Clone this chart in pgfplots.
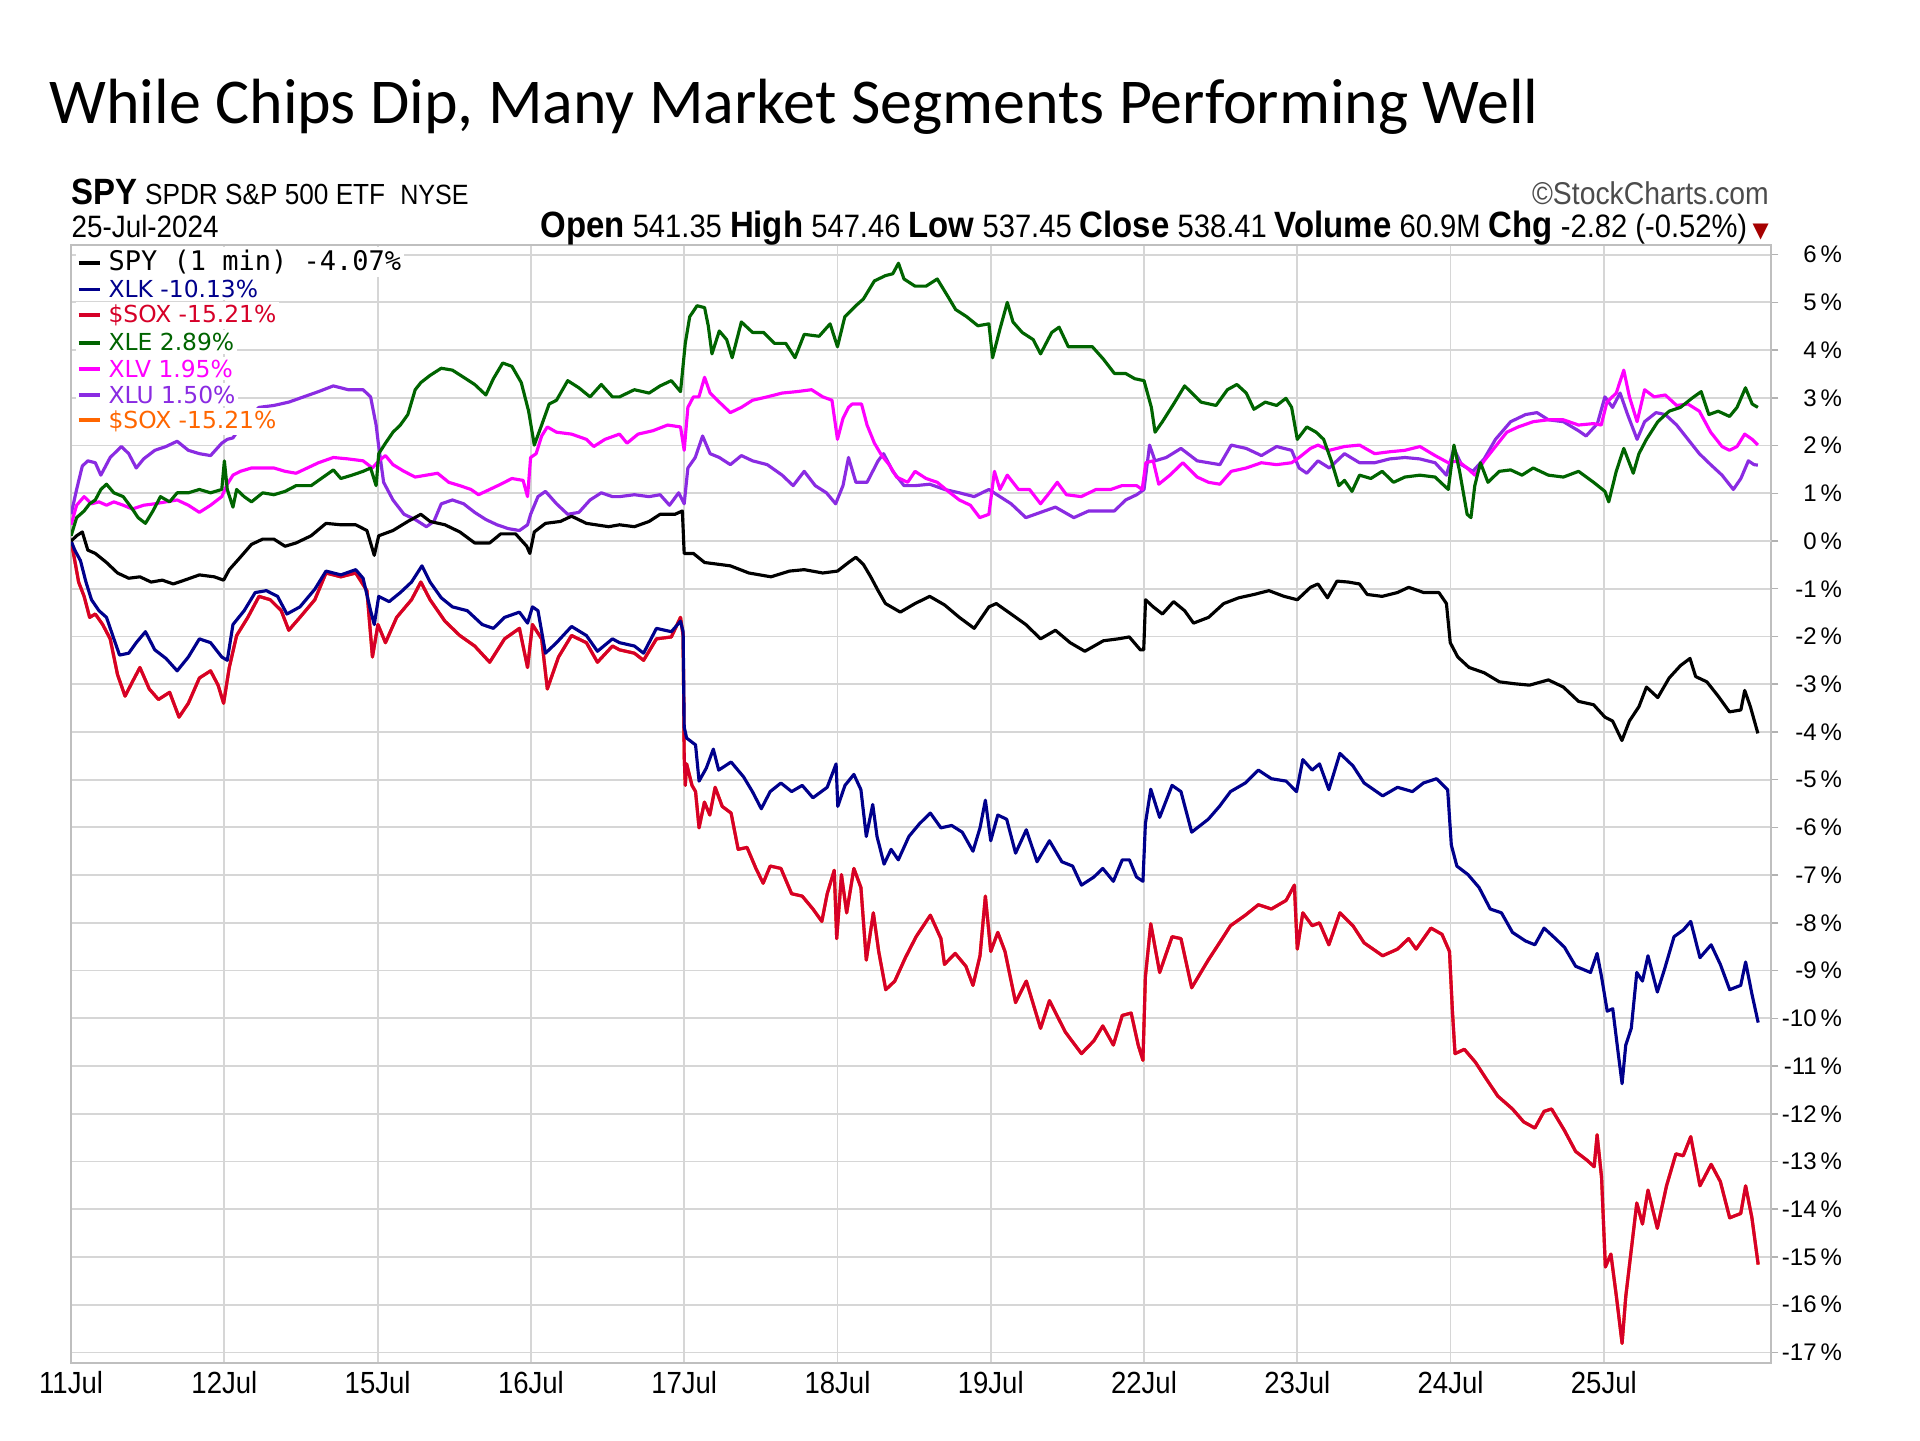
\documentclass[border=0pt]{standalone}
\usepackage{pgfplots}
\pgfplotsset{compat=1.18}
\usepackage{fontspec}
\setmainfont{Liberation Sans}
\newfontfamily\narrowfont[FakeStretch=0.9]{Liberation Sans}
\newfontfamily\titlefont{Carlito}
\newfontfamily\legfont{DejaVu Sans}
\newfontfamily\legmono{DejaVu Sans Mono}
\definecolor{cXLK}{RGB}{0,0,140}
\definecolor{cSOX}{RGB}{214,0,40}
\definecolor{cXLE}{RGB}{0,100,0}
\definecolor{cXLV}{RGB}{255,0,255}
\definecolor{cXLU}{RGB}{138,43,226}
\definecolor{cORG}{RGB}{255,102,0}
\definecolor{gridc}{RGB}{214,214,214}
\newcommand\B[1]{{\fontsize{12.2}{12}\selectfont\bfseries #1}}
\begin{document}
\begin{tikzpicture}
\fill[white] (0pt,0pt) rectangle (640pt,480pt);
\useasboundingbox (0pt,0pt) rectangle (640pt,480pt);
\begin{axis}[
  at={(23.7pt,25.7pt)}, anchor=south west, scale only axis,
  width=566.6pt, height=372.6pt,
  xmin=0, xmax=11.09, ymin=-17.22, ymax=6.2,
  axis line style={draw=gray!50, line width=0.8pt},
  xtick={0,...,10},
  xticklabels={11Jul,12Jul,15Jul,16Jul,17Jul,18Jul,19Jul,22Jul,23Jul,24Jul,25Jul},
  x tick label style={font=\narrowfont\fontsize{10.2}{12}\selectfont, anchor=north, inner sep=0pt, yshift=-0.2pt},
  xtick style={draw=none},
  ytick={-17,-16,...,6},
  yticklabels={-17\,\%,-16\,\%,-15\,\%,-14\,\%,-13\,\%,-12\,\%,-11\,\%,-10\,\%,-9\,\%,-8\,\%,-7\,\%,-6\,\%,-5\,\%,-4\,\%,-3\,\%,-2\,\%,-1\,\%,0\,\%,1\,\%,2\,\%,3\,\%,4\,\%,5\,\%,6\,\%},
  yticklabel pos=right, ytick pos=right,
  tick align=outside,
  major tick length=2.5pt,
  ytick style={draw=gray!60, line width=0.5pt},
  y tick label style={font=\fontsize{8}{9}\selectfont, anchor=east, inner sep=0pt, xshift=21.4pt},
  grid=major, major grid style={draw=gridc, line width=0.6pt},
  extra y ticks={0}, extra y tick labels={},
  extra y tick style={grid style={draw=gray!75!black, line width=0.8pt}, major tick length=0pt},
  every axis plot/.append style={line width=1.05pt, line join=round},
]
% SOX (orange duplicate, hidden below red)
\addplot[cORG] coordinates {(0.000,0.00) (0.024,-0.41) (0.049,-0.86) (0.085,-1.16) (0.121,-1.60) (0.158,-1.53) (0.206,-1.75) (0.255,-2.05) (0.303,-2.80) (0.352,-3.25) (0.400,-2.95) (0.449,-2.65) (0.510,-3.10) (0.570,-3.32) (0.643,-3.17) (0.704,-3.69) (0.765,-3.40) (0.837,-2.87) (0.910,-2.72) (0.959,-3.02) (0.995,-3.40) (1.032,-2.65) (1.080,-1.98) (1.153,-1.60) (1.226,-1.16) (1.299,-1.23) (1.371,-1.46) (1.420,-1.87) (1.493,-1.60) (1.590,-1.23) (1.663,-0.67) (1.760,-0.75) (1.857,-0.67) (1.930,-1.04) (1.966,-2.43) (2.002,-1.75) (2.051,-2.13) (2.124,-1.60) (2.221,-1.23) (2.282,-0.86) (2.342,-1.23) (2.439,-1.68) (2.536,-1.98) (2.633,-2.20) (2.731,-2.54) (2.828,-2.05) (2.925,-1.83) (2.978,-2.65) (3.010,-1.75) (3.070,-2.05) (3.107,-3.10) (3.180,-2.43) (3.265,-1.98) (3.362,-2.13) (3.434,-2.54) (3.532,-2.20) (3.578,-2.28) (3.675,-2.35) (3.735,-2.50) (3.819,-2.05) (3.916,-2.01) (3.976,-1.60) (3.993,-1.98) (4.000,-4.50) (4.007,-5.12) (4.016,-4.67) (4.051,-5.12) (4.074,-5.25) (4.097,-6.01) (4.132,-5.47) (4.167,-5.74) (4.202,-5.16) (4.248,-5.56) (4.306,-5.70) (4.352,-6.46) (4.410,-6.42) (4.468,-6.86) (4.515,-7.17) (4.561,-6.81) (4.631,-6.86) (4.701,-7.39) (4.770,-7.44) (4.840,-7.71) (4.898,-7.97) (4.933,-7.39) (4.979,-6.90) (4.995,-8.33) (5.026,-6.99) (5.060,-7.79) (5.107,-6.86) (5.153,-7.26) (5.188,-8.78) (5.234,-7.79) (5.269,-8.60) (5.315,-9.40) (5.374,-9.22) (5.443,-8.73) (5.513,-8.29) (5.606,-7.84) (5.675,-8.33) (5.698,-8.87) (5.768,-8.64) (5.838,-8.91) (5.884,-9.31) (5.930,-8.69) (5.965,-7.44) (6.000,-8.60) (6.046,-8.20) (6.093,-8.60) (6.162,-9.67) (6.232,-9.22) (6.325,-10.21) (6.383,-9.63) (6.487,-10.29) (6.592,-10.74) (6.673,-10.47) (6.731,-10.16) (6.800,-10.56) (6.858,-9.94) (6.916,-9.89) (6.962,-10.56) (6.993,-10.88) (7.009,-9.13) (7.044,-8.02) (7.102,-9.04) (7.183,-8.29) (7.241,-8.33) (7.311,-9.36) (7.419,-8.78) (7.492,-8.42) (7.564,-8.06) (7.661,-7.84) (7.746,-7.62) (7.831,-7.71) (7.927,-7.53) (7.981,-7.21) (8.000,-8.55) (8.036,-7.79) (8.097,-8.06) (8.145,-8.00) (8.206,-8.46) (8.278,-7.79) (8.363,-8.06) (8.436,-8.42) (8.557,-8.69) (8.654,-8.55) (8.726,-8.33) (8.775,-8.55) (8.872,-8.11) (8.944,-8.24) (8.993,-8.60) (9.012,-9.85) (9.029,-10.74) (9.090,-10.65) (9.162,-10.92) (9.235,-11.28) (9.308,-11.63) (9.404,-11.90) (9.477,-12.17) (9.550,-12.30) (9.610,-11.95) (9.659,-11.90) (9.743,-12.35) (9.816,-12.79) (9.889,-12.97) (9.937,-13.11) (9.956,-12.44) (9.985,-13.33) (10.010,-15.21) (10.046,-14.94) (10.082,-15.83) (10.119,-16.81) (10.143,-15.83) (10.179,-14.85) (10.215,-13.87) (10.252,-14.31) (10.288,-13.60) (10.349,-14.40) (10.409,-13.51) (10.470,-12.84) (10.518,-12.88) (10.567,-12.48) (10.627,-13.51) (10.700,-13.06) (10.760,-13.42) (10.821,-14.18) (10.893,-14.09) (10.925,-13.51) (10.966,-14.18) (11.007,-15.16)};
% XLU
\addplot[cXLU] coordinates {(0.000,0.56) (0.036,1.08) (0.073,1.57) (0.109,1.68) (0.158,1.64) (0.194,1.38) (0.255,1.75) (0.328,1.98) (0.376,1.83) (0.425,1.53) (0.473,1.72) (0.546,1.90) (0.619,1.98) (0.692,2.09) (0.765,1.90) (0.837,1.83) (0.910,1.79) (0.983,2.05) (1.019,2.13) (1.056,2.16) (1.129,2.50) (1.226,2.80) (1.323,2.84) (1.420,2.91) (1.517,3.02) (1.614,3.13) (1.711,3.25) (1.808,3.17) (1.905,3.17) (1.954,3.02) (1.990,2.43) (2.007,1.98) (2.039,1.23) (2.100,0.86) (2.172,0.56) (2.245,0.45) (2.318,0.30) (2.367,0.41) (2.415,0.78) (2.488,0.86) (2.561,0.78) (2.633,0.60) (2.706,0.45) (2.779,0.34) (2.852,0.26) (2.925,0.22) (2.978,0.34) (2.998,0.56) (3.046,0.93) (3.095,1.04) (3.167,0.78) (3.240,0.56) (3.313,0.60) (3.386,0.86) (3.459,1.01) (3.532,0.93) (3.578,0.93) (3.675,0.97) (3.771,0.93) (3.843,0.97) (3.904,0.75) (3.964,1.01) (4.000,0.78) (4.024,1.53) (4.072,1.75) (4.120,2.20) (4.169,1.83) (4.229,1.75) (4.301,1.60) (4.373,1.79) (4.446,1.68) (4.542,1.60) (4.639,1.38) (4.711,1.16) (4.783,1.46) (4.855,1.16) (4.928,1.01) (4.988,0.78) (5.036,1.16) (5.072,1.75) (5.120,1.23) (5.193,1.23) (5.265,1.68) (5.301,1.83) (5.361,1.46) (5.434,1.16) (5.506,1.16) (5.602,1.19) (5.699,1.08) (5.795,1.01) (5.892,0.93) (5.988,1.08) (6.060,0.93) (6.133,0.78) (6.229,0.49) (6.325,0.60) (6.422,0.71) (6.542,0.49) (6.639,0.63) (6.735,0.63) (6.807,0.63) (6.880,0.86) (6.952,0.97) (7.000,1.08) (7.036,2.01) (7.072,1.68) (7.145,1.75) (7.241,1.94) (7.347,1.68) (7.421,1.64) (7.495,1.60) (7.569,2.01) (7.667,1.94) (7.766,1.79) (7.865,1.98) (7.963,1.90) (8.012,1.53) (8.062,1.42) (8.135,1.68) (8.209,1.53) (8.308,1.83) (8.406,1.64) (8.505,1.64) (8.603,1.72) (8.702,1.75) (8.800,1.72) (8.899,1.64) (8.973,1.38) (9.022,1.94) (9.071,1.60) (9.145,1.46) (9.219,1.72) (9.293,2.13) (9.392,2.50) (9.490,2.65) (9.564,2.69) (9.638,2.54) (9.736,2.50) (9.835,2.31) (9.884,2.20) (9.958,2.46) (10.007,3.02) (10.057,2.80) (10.106,3.10) (10.155,2.65) (10.217,2.13) (10.266,2.50) (10.340,2.69) (10.401,2.65) (10.475,2.43) (10.549,2.13) (10.623,1.83) (10.697,1.60) (10.771,1.38) (10.845,1.08) (10.894,1.31) (10.943,1.68) (10.980,1.60) (11.005,1.59)};
% XLV
\addplot[cXLV] coordinates {(0.000,0.34) (0.036,0.75) (0.085,0.93) (0.133,0.78) (0.182,0.82) (0.231,0.75) (0.279,0.82) (0.340,0.75) (0.400,0.67) (0.473,0.75) (0.546,0.78) (0.619,0.82) (0.692,0.86) (0.765,0.75) (0.837,0.60) (0.910,0.75) (0.983,0.93) (1.019,1.19) (1.056,1.38) (1.104,1.46) (1.177,1.53) (1.250,1.53) (1.323,1.53) (1.396,1.46) (1.468,1.42) (1.541,1.53) (1.614,1.64) (1.711,1.75) (1.808,1.72) (1.905,1.68) (1.966,1.53) (2.007,1.68) (2.051,1.79) (2.100,1.60) (2.172,1.46) (2.245,1.34) (2.318,1.38) (2.391,1.42) (2.464,1.23) (2.536,1.16) (2.609,1.08) (2.658,0.97) (2.731,1.08) (2.803,1.19) (2.876,1.31) (2.949,1.27) (2.978,0.93) (2.998,1.75) (3.034,1.83) (3.070,2.20) (3.107,2.39) (3.167,2.28) (3.265,2.24) (3.362,2.13) (3.410,1.98) (3.483,2.13) (3.578,2.24) (3.627,2.05) (3.699,2.24) (3.795,2.31) (3.892,2.43) (3.976,2.39) (4.000,1.90) (4.024,2.80) (4.060,3.02) (4.096,3.02) (4.133,3.43) (4.169,3.10) (4.229,2.91) (4.301,2.69) (4.373,2.80) (4.446,2.95) (4.542,3.02) (4.639,3.10) (4.735,3.13) (4.831,3.17) (4.904,3.02) (4.964,2.95) (5.000,2.13) (5.036,2.57) (5.072,2.80) (5.096,2.87) (5.157,2.87) (5.193,2.43) (5.241,2.05) (5.289,1.79) (5.337,1.60) (5.386,1.34) (5.458,1.23) (5.506,1.46) (5.578,1.31) (5.651,1.23) (5.723,1.04) (5.795,0.86) (5.867,0.75) (5.928,0.49) (5.988,0.56) (6.024,1.46) (6.060,1.08) (6.108,1.38) (6.181,1.08) (6.253,1.08) (6.325,0.78) (6.373,0.97) (6.434,1.23) (6.494,0.97) (6.590,0.93) (6.687,1.08) (6.783,1.08) (6.855,1.16) (6.952,1.16) (6.988,1.08) (7.012,1.64) (7.060,1.68) (7.096,1.19) (7.169,1.38) (7.253,1.64) (7.347,1.34) (7.421,1.23) (7.495,1.19) (7.569,1.46) (7.667,1.53) (7.766,1.64) (7.865,1.60) (7.963,1.64) (8.012,1.75) (8.086,1.94) (8.135,2.01) (8.209,1.90) (8.308,1.98) (8.406,2.01) (8.505,1.83) (8.603,1.87) (8.702,1.90) (8.800,1.98) (8.899,1.79) (8.985,1.64) (9.047,1.68) (9.108,1.53) (9.158,1.38) (9.219,1.68) (9.293,1.98) (9.367,2.28) (9.441,2.39) (9.539,2.50) (9.638,2.54) (9.736,2.54) (9.835,2.43) (9.933,2.46) (9.983,2.43) (10.020,2.91) (10.081,3.10) (10.130,3.58) (10.167,3.02) (10.217,2.50) (10.266,3.17) (10.328,3.02) (10.401,3.06) (10.475,2.84) (10.549,2.87) (10.623,2.72) (10.697,2.28) (10.771,1.98) (10.820,1.90) (10.869,1.98) (10.919,2.24) (10.968,2.13) (11.005,2.01)};
% XLE
\addplot[cXLE] coordinates {(0.000,0.11) (0.036,0.49) (0.085,0.63) (0.121,0.78) (0.158,0.86) (0.194,1.08) (0.231,1.19) (0.279,1.01) (0.340,0.93) (0.400,0.67) (0.437,0.49) (0.485,0.37) (0.534,0.63) (0.583,0.93) (0.643,0.82) (0.692,1.01) (0.765,1.01) (0.837,1.08) (0.910,1.01) (0.983,1.08) (1.000,1.68) (1.019,1.08) (1.056,0.71) (1.080,1.08) (1.129,0.93) (1.177,0.82) (1.250,1.01) (1.323,0.97) (1.396,1.04) (1.468,1.16) (1.566,1.16) (1.663,1.38) (1.711,1.49) (1.760,1.31) (1.833,1.38) (1.905,1.46) (1.954,1.53) (1.990,1.16) (2.007,1.83) (2.051,2.05) (2.100,2.28) (2.148,2.43) (2.197,2.65) (2.245,3.17) (2.282,3.32) (2.342,3.47) (2.415,3.62) (2.488,3.58) (2.561,3.43) (2.633,3.28) (2.706,3.06) (2.755,3.40) (2.816,3.73) (2.876,3.66) (2.937,3.32) (2.985,2.72) (3.022,2.01) (3.070,2.43) (3.119,2.87) (3.167,2.95) (3.240,3.36) (3.313,3.21) (3.386,3.02) (3.459,3.28) (3.532,3.02) (3.578,3.02) (3.675,3.17) (3.771,3.10) (3.843,3.25) (3.916,3.36) (3.976,3.13) (4.007,4.14) (4.036,4.70) (4.084,4.93) (4.133,4.89) (4.157,4.51) (4.181,3.92) (4.229,4.40) (4.277,4.22) (4.313,3.84) (4.373,4.59) (4.446,4.37) (4.518,4.37) (4.590,4.14) (4.663,4.14) (4.723,3.84) (4.783,4.33) (4.880,4.29) (4.952,4.55) (5.000,4.07) (5.048,4.70) (5.120,4.93) (5.169,5.07) (5.241,5.45) (5.313,5.56) (5.361,5.60) (5.398,5.82) (5.434,5.49) (5.506,5.34) (5.578,5.34) (5.651,5.49) (5.723,5.11) (5.771,4.85) (5.843,4.70) (5.916,4.51) (5.988,4.55) (6.012,3.84) (6.060,4.44) (6.108,5.00) (6.145,4.59) (6.205,4.37) (6.277,4.22) (6.325,3.92) (6.398,4.37) (6.446,4.48) (6.506,4.07) (6.590,4.07) (6.663,4.07) (6.735,3.81) (6.807,3.51) (6.880,3.51) (6.940,3.40) (7.000,3.36) (7.048,2.80) (7.072,2.28) (7.120,2.50) (7.193,2.87) (7.265,3.25) (7.372,2.91) (7.470,2.84) (7.544,3.17) (7.606,3.28) (7.667,3.10) (7.717,2.76) (7.791,2.91) (7.865,2.84) (7.926,2.99) (7.963,2.80) (8.000,2.13) (8.062,2.39) (8.123,2.28) (8.172,2.13) (8.222,1.68) (8.271,1.16) (8.308,1.27) (8.357,1.04) (8.406,1.38) (8.480,1.31) (8.554,1.46) (8.628,1.23) (8.702,1.34) (8.800,1.38) (8.899,1.34) (8.985,1.08) (9.022,2.01) (9.059,1.46) (9.108,0.56) (9.133,0.49) (9.158,1.16) (9.195,1.64) (9.244,1.23) (9.318,1.46) (9.392,1.49) (9.466,1.38) (9.539,1.53) (9.638,1.38) (9.736,1.34) (9.835,1.46) (9.933,1.23) (10.007,1.04) (10.032,0.82) (10.081,1.46) (10.130,1.94) (10.192,1.42) (10.229,1.83) (10.278,2.13) (10.352,2.50) (10.426,2.72) (10.500,2.80) (10.574,2.99) (10.635,3.13) (10.685,2.65) (10.746,2.72) (10.820,2.61) (10.869,2.80) (10.924,3.21) (10.968,2.87) (11.005,2.80)};
% SOX
\addplot[cSOX] coordinates {(0.000,0.00) (0.024,-0.41) (0.049,-0.86) (0.085,-1.16) (0.121,-1.60) (0.158,-1.53) (0.206,-1.75) (0.255,-2.05) (0.303,-2.80) (0.352,-3.25) (0.400,-2.95) (0.449,-2.65) (0.510,-3.10) (0.570,-3.32) (0.643,-3.17) (0.704,-3.69) (0.765,-3.40) (0.837,-2.87) (0.910,-2.72) (0.959,-3.02) (0.995,-3.40) (1.032,-2.65) (1.080,-1.98) (1.153,-1.60) (1.226,-1.16) (1.299,-1.23) (1.371,-1.46) (1.420,-1.87) (1.493,-1.60) (1.590,-1.23) (1.663,-0.67) (1.760,-0.75) (1.857,-0.67) (1.930,-1.04) (1.966,-2.43) (2.002,-1.75) (2.051,-2.13) (2.124,-1.60) (2.221,-1.23) (2.282,-0.86) (2.342,-1.23) (2.439,-1.68) (2.536,-1.98) (2.633,-2.20) (2.731,-2.54) (2.828,-2.05) (2.925,-1.83) (2.978,-2.65) (3.010,-1.75) (3.070,-2.05) (3.107,-3.10) (3.180,-2.43) (3.265,-1.98) (3.362,-2.13) (3.434,-2.54) (3.532,-2.20) (3.578,-2.28) (3.675,-2.35) (3.735,-2.50) (3.819,-2.05) (3.916,-2.01) (3.976,-1.60) (3.993,-1.98) (4.000,-4.50) (4.007,-5.12) (4.016,-4.67) (4.051,-5.12) (4.074,-5.25) (4.097,-6.01) (4.132,-5.47) (4.167,-5.74) (4.202,-5.16) (4.248,-5.56) (4.306,-5.70) (4.352,-6.46) (4.410,-6.42) (4.468,-6.86) (4.515,-7.17) (4.561,-6.81) (4.631,-6.86) (4.701,-7.39) (4.770,-7.44) (4.840,-7.71) (4.898,-7.97) (4.933,-7.39) (4.979,-6.90) (4.995,-8.33) (5.026,-6.99) (5.060,-7.79) (5.107,-6.86) (5.153,-7.26) (5.188,-8.78) (5.234,-7.79) (5.269,-8.60) (5.315,-9.40) (5.374,-9.22) (5.443,-8.73) (5.513,-8.29) (5.606,-7.84) (5.675,-8.33) (5.698,-8.87) (5.768,-8.64) (5.838,-8.91) (5.884,-9.31) (5.930,-8.69) (5.965,-7.44) (6.000,-8.60) (6.046,-8.20) (6.093,-8.60) (6.162,-9.67) (6.232,-9.22) (6.325,-10.21) (6.383,-9.63) (6.487,-10.29) (6.592,-10.74) (6.673,-10.47) (6.731,-10.16) (6.800,-10.56) (6.858,-9.94) (6.916,-9.89) (6.962,-10.56) (6.993,-10.88) (7.009,-9.13) (7.044,-8.02) (7.102,-9.04) (7.183,-8.29) (7.241,-8.33) (7.311,-9.36) (7.419,-8.78) (7.492,-8.42) (7.564,-8.06) (7.661,-7.84) (7.746,-7.62) (7.831,-7.71) (7.927,-7.53) (7.981,-7.21) (8.000,-8.55) (8.036,-7.79) (8.097,-8.06) (8.145,-8.00) (8.206,-8.46) (8.278,-7.79) (8.363,-8.06) (8.436,-8.42) (8.557,-8.69) (8.654,-8.55) (8.726,-8.33) (8.775,-8.55) (8.872,-8.11) (8.944,-8.24) (8.993,-8.60) (9.012,-9.85) (9.029,-10.74) (9.090,-10.65) (9.162,-10.92) (9.235,-11.28) (9.308,-11.63) (9.404,-11.90) (9.477,-12.17) (9.550,-12.30) (9.610,-11.95) (9.659,-11.90) (9.743,-12.35) (9.816,-12.79) (9.889,-12.97) (9.937,-13.11) (9.956,-12.44) (9.985,-13.33) (10.010,-15.21) (10.046,-14.94) (10.082,-15.83) (10.119,-16.81) (10.143,-15.83) (10.179,-14.85) (10.215,-13.87) (10.252,-14.31) (10.288,-13.60) (10.349,-14.40) (10.409,-13.51) (10.470,-12.84) (10.518,-12.88) (10.567,-12.48) (10.627,-13.51) (10.700,-13.06) (10.760,-13.42) (10.821,-14.18) (10.893,-14.09) (10.925,-13.51) (10.966,-14.18) (11.007,-15.16)};
% XLK
\addplot[cXLK] coordinates {(0.000,0.00) (0.024,-0.19) (0.061,-0.41) (0.097,-0.86) (0.133,-1.23) (0.182,-1.46) (0.231,-1.60) (0.279,-2.05) (0.316,-2.39) (0.376,-2.35) (0.425,-2.13) (0.485,-1.90) (0.546,-2.28) (0.619,-2.46) (0.692,-2.72) (0.765,-2.43) (0.837,-2.05) (0.910,-2.13) (0.983,-2.43) (1.019,-2.50) (1.056,-1.75) (1.129,-1.46) (1.201,-1.08) (1.274,-1.04) (1.347,-1.16) (1.408,-1.53) (1.493,-1.38) (1.590,-1.01) (1.663,-0.63) (1.760,-0.71) (1.857,-0.60) (1.905,-0.78) (1.954,-1.46) (1.978,-1.75) (2.007,-1.16) (2.075,-1.27) (2.148,-1.08) (2.221,-0.86) (2.289,-0.52) (2.342,-0.86) (2.415,-1.19) (2.488,-1.38) (2.585,-1.46) (2.682,-1.75) (2.755,-1.83) (2.828,-1.60) (2.925,-1.49) (2.978,-1.72) (3.010,-1.38) (3.046,-1.46) (3.095,-2.35) (3.167,-2.13) (3.265,-1.79) (3.362,-1.98) (3.434,-2.31) (3.532,-2.05) (3.578,-2.13) (3.675,-2.20) (3.735,-2.35) (3.819,-1.83) (3.916,-1.90) (3.976,-1.68) (3.993,-1.90) (4.000,-3.90) (4.016,-4.13) (4.074,-4.27) (4.097,-5.03) (4.144,-4.76) (4.190,-4.36) (4.225,-4.80) (4.306,-4.63) (4.387,-4.94) (4.445,-5.25) (4.503,-5.61) (4.561,-5.25) (4.631,-5.07) (4.701,-5.25) (4.770,-5.12) (4.840,-5.38) (4.933,-5.16) (4.991,-4.67) (5.002,-5.56) (5.049,-5.12) (5.107,-4.89) (5.153,-5.21) (5.188,-6.19) (5.230,-5.52) (5.258,-6.19) (5.304,-6.77) (5.350,-6.46) (5.397,-6.68) (5.466,-6.19) (5.536,-5.92) (5.606,-5.70) (5.675,-6.01) (5.745,-5.96) (5.814,-6.10) (5.884,-6.50) (5.930,-6.01) (5.965,-5.43) (6.000,-6.28) (6.046,-5.74) (6.104,-5.83) (6.162,-6.54) (6.232,-6.05) (6.302,-6.72) (6.383,-6.28) (6.464,-6.72) (6.534,-6.81) (6.592,-7.21) (6.673,-7.04) (6.731,-6.86) (6.800,-7.13) (6.858,-6.68) (6.905,-6.68) (6.951,-7.04) (6.993,-7.13) (7.009,-5.92) (7.044,-5.20) (7.102,-5.79) (7.183,-5.12) (7.241,-5.25) (7.311,-6.10) (7.419,-5.83) (7.492,-5.56) (7.564,-5.25) (7.661,-5.07) (7.746,-4.80) (7.831,-4.98) (7.927,-5.03) (7.995,-5.25) (8.036,-4.58) (8.097,-4.80) (8.145,-4.67) (8.206,-5.21) (8.278,-4.45) (8.363,-4.71) (8.436,-5.07) (8.557,-5.34) (8.654,-5.16) (8.751,-5.25) (8.823,-5.07) (8.908,-4.98) (8.981,-5.21) (9.005,-6.37) (9.041,-6.81) (9.114,-6.99) (9.186,-7.26) (9.259,-7.71) (9.332,-7.79) (9.404,-8.20) (9.489,-8.38) (9.550,-8.46) (9.610,-8.11) (9.671,-8.29) (9.743,-8.51) (9.816,-8.91) (9.913,-9.04) (9.956,-8.64) (9.985,-9.13) (10.022,-9.85) (10.058,-9.80) (10.094,-10.74) (10.119,-11.37) (10.143,-10.56) (10.179,-10.21) (10.215,-9.04) (10.252,-9.22) (10.288,-8.69) (10.349,-9.45) (10.397,-8.96) (10.458,-8.29) (10.518,-8.15) (10.567,-7.97) (10.627,-8.73) (10.700,-8.46) (10.760,-8.87) (10.821,-9.40) (10.893,-9.31) (10.925,-8.82) (10.966,-9.49) (11.007,-10.09)};
% SPY
\addplot[black] coordinates {(0.000,0.00) (0.036,0.11) (0.073,0.19) (0.109,-0.19) (0.158,-0.26) (0.231,-0.45) (0.303,-0.67) (0.376,-0.78) (0.449,-0.75) (0.522,-0.86) (0.595,-0.82) (0.667,-0.90) (0.740,-0.82) (0.837,-0.71) (0.934,-0.75) (0.995,-0.82) (1.032,-0.60) (1.104,-0.34) (1.177,-0.07) (1.250,0.04) (1.323,0.04) (1.396,-0.11) (1.468,-0.04) (1.566,0.11) (1.663,0.37) (1.760,0.34) (1.857,0.34) (1.930,0.22) (1.978,-0.30) (2.007,0.11) (2.100,0.22) (2.197,0.41) (2.282,0.56) (2.342,0.41) (2.439,0.34) (2.536,0.19) (2.633,-0.04) (2.731,-0.04) (2.803,0.15) (2.900,0.15) (2.973,-0.11) (2.993,-0.26) (3.022,0.19) (3.095,0.37) (3.192,0.41) (3.265,0.52) (3.362,0.37) (3.507,0.30) (3.578,0.34) (3.675,0.30) (3.771,0.41) (3.843,0.56) (3.940,0.56) (3.988,0.63) (4.000,-0.26) (4.060,-0.26) (4.133,-0.45) (4.301,-0.52) (4.422,-0.67) (4.566,-0.75) (4.687,-0.63) (4.783,-0.60) (4.904,-0.67) (5.000,-0.63) (5.072,-0.45) (5.120,-0.34) (5.169,-0.49) (5.217,-0.75) (5.265,-1.04) (5.313,-1.31) (5.410,-1.49) (5.506,-1.31) (5.602,-1.16) (5.699,-1.34) (5.795,-1.60) (5.892,-1.83) (5.988,-1.38) (6.036,-1.31) (6.133,-1.53) (6.229,-1.75) (6.325,-2.05) (6.422,-1.87) (6.518,-2.13) (6.614,-2.31) (6.735,-2.09) (6.831,-2.05) (6.904,-2.01) (6.976,-2.28) (6.998,-2.28) (7.010,-1.23) (7.060,-1.38) (7.120,-1.53) (7.193,-1.27) (7.265,-1.46) (7.323,-1.72) (7.421,-1.60) (7.520,-1.31) (7.618,-1.19) (7.717,-1.12) (7.815,-1.04) (7.914,-1.16) (8.000,-1.23) (8.086,-0.97) (8.135,-0.90) (8.197,-1.19) (8.259,-0.84) (8.333,-0.86) (8.406,-0.90) (8.456,-1.12) (8.554,-1.16) (8.653,-1.08) (8.727,-0.97) (8.825,-1.08) (8.924,-1.08) (8.973,-1.31) (8.998,-2.13) (9.047,-2.43) (9.121,-2.65) (9.219,-2.76) (9.318,-2.95) (9.416,-2.99) (9.515,-3.02) (9.638,-2.91) (9.736,-3.06) (9.835,-3.36) (9.933,-3.43) (10.007,-3.69) (10.057,-3.77) (10.118,-4.18) (10.167,-3.77) (10.229,-3.47) (10.278,-3.06) (10.352,-3.28) (10.426,-2.87) (10.500,-2.61) (10.562,-2.46) (10.599,-2.84) (10.672,-2.95) (10.746,-3.25) (10.820,-3.58) (10.894,-3.54) (10.919,-3.13) (10.956,-3.47) (11.005,-4.03)};
\end{axis}
% title and header
\node[anchor=base west, inner sep=0pt] at (16.3pt,438.8pt) {\titlefont\fontsize{21.3}{24}\selectfont While Chips Dip, Many Market Segments Performing Well};
\node[anchor=base west, inner sep=0pt] at (23.7pt,411.8pt) {\narrowfont{\fontsize{12.2}{14}\selectfont\bfseries SPY}\ {\fontsize{9.7}{12}\selectfont SPDR S\&P 500 ETF}\ \ {\fontsize{9.3}{11}\selectfont NYSE}};
\node[anchor=base east, inner sep=0pt, text=black!70] at (589.8pt,411.8pt) {\narrowfont\fontsize{10.5}{12}\selectfont ©StockCharts.com};
\node[anchor=base west, inner sep=0pt] at (23.7pt,400.8pt) {\narrowfont\fontsize{10.3}{12}\selectfont 25-Jul-2024};
\node[anchor=base east, inner sep=0pt] at (589.8pt,400.8pt) {\narrowfont\fontsize{10.8}{12}\selectfont \B{Open} 541.35 \B{High} 547.46 \B{Low} 537.45 \B{Close} 538.41 \B{Volume} 60.9M \B{Chg} -2.82 (-0.52\%)\,{\legfont\fontsize{7}{8}\selectfont\textcolor{red!65!black}{▼}}};
% legend
\node[anchor=west, fill=white, inner xsep=1pt, inner ysep=0.9pt] at (25pt,392.6pt) {\textcolor{black}{\rule[2pt]{7pt}{1.3pt}}\hspace{3pt}{\legmono\fontsize{9}{9}\selectfont SPY (1 min) -4.07\%}};
\node[anchor=west, fill=white, inner xsep=1pt, inner ysep=0.9pt] at (25pt,383.7pt) {\textcolor{cXLK}{\rule[2pt]{7pt}{1.3pt}}\hspace{3pt}{\legfont\fontsize{7.8}{8}\selectfont\textcolor{cXLK}{XLK -10.13\%}}};
\node[anchor=west, fill=white, inner xsep=1pt, inner ysep=0.9pt] at (25pt,374.8pt) {\textcolor{cSOX}{\rule[2pt]{7pt}{1.3pt}}\hspace{3pt}{\legfont\fontsize{7.8}{8}\selectfont\textcolor{cSOX}{\$SOX -15.21\%}}};
\node[anchor=west, fill=white, inner xsep=1pt, inner ysep=0.9pt] at (25pt,366.0pt) {\textcolor{cXLE}{\rule[2pt]{7pt}{1.3pt}}\hspace{3pt}{\legfont\fontsize{7.8}{8}\selectfont\textcolor{cXLE}{XLE 2.89\%}}};
\node[anchor=west, fill=white, inner xsep=1pt, inner ysep=0.9pt] at (25pt,357.1pt) {\textcolor{cXLV}{\rule[2pt]{7pt}{1.3pt}}\hspace{3pt}{\legfont\fontsize{7.8}{8}\selectfont\textcolor{cXLV}{XLV 1.95\%}}};
\node[anchor=west, fill=white, inner xsep=1pt, inner ysep=0.9pt] at (25pt,348.5pt) {\textcolor{cXLU}{\rule[2pt]{7pt}{1.3pt}}\hspace{3pt}{\legfont\fontsize{7.8}{8}\selectfont\textcolor{cXLU}{XLU 1.50\%}}};
\node[anchor=west, fill=white, inner xsep=1pt, inner ysep=0.9pt] at (25pt,339.6pt) {\textcolor{cORG}{\rule[2pt]{7pt}{1.3pt}}\hspace{3pt}{\legfont\fontsize{7.8}{8}\selectfont\textcolor{cORG}{\$SOX -15.21\%}}};
\end{tikzpicture}
\end{document}
